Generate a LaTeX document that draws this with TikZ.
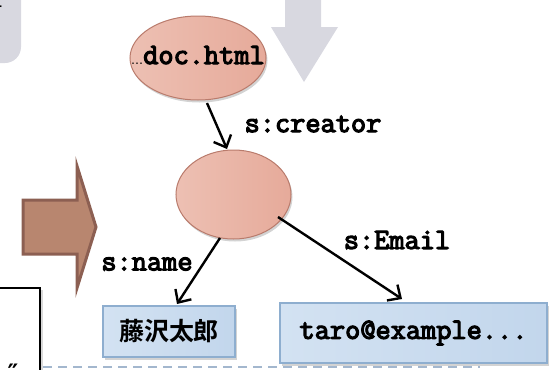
\documentclass[tikz,border=0pt]{standalone}
\usepackage{fontspec}
\newfontfamily\cour{Latin Modern Mono}[AutoFakeBold=4]
\newfontfamily\symb{DejaVu Sans}
\newfontfamily\cjk{Noto Sans CJK JP}[BoldFont={* Bold}]
\usetikzlibrary{arrows.meta,shadows,shapes.geometric}
\definecolor{nodefill}{HTML}{E6AA9A}
\definecolor{nodefillL}{HTML}{EDC0B3}
\definecolor{nodeline}{HTML}{B97B6C}
\definecolor{boxfill}{HTML}{C2D6EC}
\definecolor{boxfillL}{HTML}{D3E2F2}
\definecolor{boxline}{HTML}{8EAECF}
\definecolor{greyshape}{HTML}{D8D8E0}
\definecolor{brownfill}{HTML}{B8866F}
\definecolor{brownline}{HTML}{8C5F52}
\definecolor{dashline}{HTML}{A3B7CE}
\tikzset{
  resnode/.style={ellipse, draw=nodeline, line width=1pt,
    left color=nodefillL, right color=nodefill,
    drop shadow={opacity=0.35, shadow xshift=1.5pt, shadow yshift=-2.5pt}},
  litbox/.style={rectangle, draw=boxline, line width=1.2pt,
    left color=boxfillL, right color=boxfill,
    drop shadow={opacity=0.35, shadow xshift=1.5pt, shadow yshift=-2.5pt}},
  rel/.style={draw=black, line width=2.4pt,
    -{Straight Barb[length=10pt,width=19pt,line width=2.4pt]}},
  monofont/.style={font=\cour\bfseries\fontsize{29.5}{32}\selectfont},
  lbl/.style={monofont, inner sep=0pt},
}
\begin{document}
\begin{tikzpicture}[x=1pt,y=-1pt]
\useasboundingbox (0,0) rectangle (558,370);
\clip (0,0) rectangle (558,370);

% top-left grey panel
\fill[greyshape, rounded corners=16pt] (-40,-40) rectangle (21,63);
\node[anchor=east, inner sep=0pt, font=\cjk\fontsize{22}{24}\selectfont] at (4,12) {す};

% grey down arrow
\fill[greyshape] (285,0) -- (321,0) -- (321,27) -- (338,27) -- (304,82)
  -- (271,27) -- (285,27) -- cycle;

% brown right arrow
\filldraw[fill=brownfill, draw=brownline, line width=3pt, line join=miter]
  (23,200) -- (77,200) -- (77,166) -- (96,227) -- (77,288) -- (77,254)
  -- (23,254) -- cycle;

% left framed panel
\draw[line width=2pt, drop shadow={opacity=0.3, shadow xshift=3pt, shadow yshift=-2pt}, fill=white]
  (-20,288) -- (40,288) -- (40,400) -- (-20,400);
\node[anchor=north, inner sep=0pt, font=\symb\bfseries\fontsize{24}{26}\selectfont] at (13,364) {″};

% dashed separator
\draw[dashline, line width=2pt, dash pattern=on 9pt off 6pt] (43,367) -- (480,367);

% resource nodes
\node[resnode, minimum width=136pt, minimum height=84pt] (doc) at (198,58) {};
\node[lbl, anchor=base] (doclbl) at (198,64)
  {\normalfont\symb\fontsize{12}{14}\selectfont…\cour\bfseries\fontsize{29.5}{32}\selectfont doc.html};
\node[resnode, minimum width=115pt, minimum height=89pt] (person) at (233.5,194.5) {};

% literal nodes
\node[litbox, minimum width=132pt, minimum height=51pt] (name) at (169,331.5)
  {\cjk\bfseries\fontsize{25}{28}\selectfont 藤沢太郎};
\node[litbox, minimum width=267pt, minimum height=60pt, monofont] (mail) at (413.5,333)
  {taro@example...};

% properties
\draw[rel] (207,103) -- (227,149);
\node[lbl] (pcreator) at (313,124) {s:creator};
\draw[rel] (220,238) -- (177,304);
\node[lbl] (pname) at (147,264) {s:name};
\draw[rel] (278,217) -- (402,299);
\node[lbl] (pmail) at (397,240) {s:Email};
\end{tikzpicture}
\end{document}
